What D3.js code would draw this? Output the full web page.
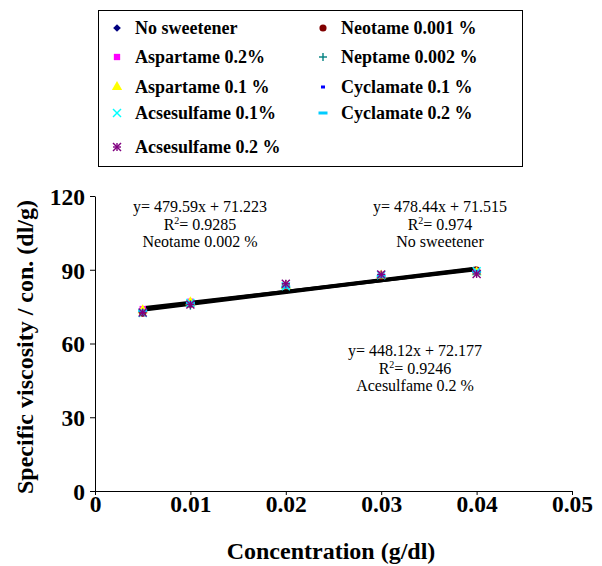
<!DOCTYPE html>
<html>
<head>
<meta charset="utf-8">
<script src="https://cdn.jsdelivr.net/npm/d3@7"></script>
<style>
  body { margin: 0; background: #fff; }
  svg text { font-family: "Liberation Serif", "Times New Roman", serif !important; fill: #000; }
  .axis path, .axis line { stroke: #000; stroke-width: 1; }
  .axis text { font-size: 23.5px; font-weight: bold; }
</style>
</head>
<body>
<svg width="602" height="566"></svg>
<script>
var concentrations = [0.005, 0.01, 0.02, 0.03, 0.04];

var seriesNames = ["No sweetener", "Neotame 0.001 %", "Aspartame 0.2%", "Neptame 0.002 %",
  "Aspartame 0.1 %", "Cyclamate 0.1 %", "Acsesulfame 0.1%", "Cyclamate 0.2 %", "Acsesulfame 0.2 %"];

var noSweetener   = [73.2, 76.3, 83.6, 87.6, 89.5];
var neotame001    = [72.3, 76.0, 83.2, 87.4, 89.9];
var aspartame02   = [74.0, 77.0, 83.5, 88.0, 89.2];
var neptame002    = [72.8, 75.4, 84.2, 87.9, 88.9];
var aspartame01   = [73.5, 76.8, 83.4, 87.7, 89.0];
var cyclamate01   = [73.0, 76.2, 83.0, 87.5, 89.2];
var acsesulfame01 = [72.4, 76.5, 83.3, 87.8, 89.4];
var cyclamate02   = [73.3, 76.4, 83.0, 87.3, 89.3];
var acsesulfame02 = [72.6, 75.9, 84.3, 88.1, 88.3];

var seriesValues = [noSweetener, neotame001, aspartame02, neptame002,
  aspartame01, cyclamate01, acsesulfame01, cyclamate02, acsesulfame02];

var seriesColors = ["#000080", "#800000", "#ff00ff", "#008080",
  "#ffff00", "#0000ff", "#00ffff", "#00ccff", "#800080"];
var seriesMarkers = ["diamond", "circle", "square", "plus",
  "triangle", "shortDash", "cross", "longDash", "star"];

// trendlines: slope, intercept
var trendSlopes = [478.44, 479.59, 448.12];
var trendIntercepts = [71.515, 71.223, 72.177];

var xTicks = [0, 0.01, 0.02, 0.03, 0.04, 0.05];
var xTickLabels = ["0", "0.01", "0.02", "0.03", "0.04", "0.05"];
var yTicks = [0, 30, 60, 90, 120];

var annotations = [
  { lines: ["y= 479.59x + 71.223", "R2= 0.9285", "Neotame 0.002 %"], cx: 200, top: 212 },
  { lines: ["y= 478.44x + 71.515", "R2= 0.974", "No sweetener"], cx: 440, top: 212 },
  { lines: ["y= 448.12x + 72.177", "R2= 0.9246", "Acesulfame 0.2 %"], cx: 415, top: 356 }
];

var svg = d3.select("svg");

var x = d3.scaleLinear().domain([0, 0.05]).range([95, 572]);
var y = d3.scaleLinear().domain([0, 120]).range([491, 196]);

// axes
var xAxisG = svg.append("g")
    .attr("class", "axis")
    .attr("transform", "translate(0," + y(0) + ")")
    .call(d3.axisBottom(x).tickValues(xTicks).tickSize(4).tickSizeOuter(0)
      .tickFormat(function(d, i) { return xTickLabels[i]; }));
xAxisG.attr("font-family", null).attr("font-size", null);
xAxisG.selectAll("text").attr("dy", "0.6em");

var yAxisG = svg.append("g")
    .attr("class", "axis")
    .attr("transform", "translate(" + x(0) + ",0)")
    .call(d3.axisLeft(y).tickValues(yTicks).tickSize(5).tickSizeOuter(0));
yAxisG.attr("font-family", null).attr("font-size", null);
yAxisG.selectAll("text").attr("x", -10).attr("dy", "0.36em");

// axis titles
svg.append("text")
    .attr("x", 331).attr("y", 559)
    .attr("text-anchor", "middle")
    .style("font-size", "24px").style("font-weight", "bold")
    .text("Concentration (g/dl)");

svg.append("text")
    .attr("transform", "translate(33,347) rotate(-90)")
    .attr("text-anchor", "middle")
    .style("font-size", "24px").style("font-weight", "bold")
    .text("Specific viscosity / con. (dl/g)");

// trendlines
trendSlopes.forEach(function(m, i) {
  var b = trendIntercepts[i];
  svg.append("line")
      .attr("x1", x(0.005)).attr("y1", y(m * 0.005 + b))
      .attr("x2", x(0.04)).attr("y2", y(m * 0.04 + b))
      .attr("stroke", "#000")
      .attr("stroke-width", 3.5);
});

function drawMarker(g, type, color) {
  var sym = null;
  if (type == "diamond") {
    g.append("path").attr("d", d3.symbol().type(d3.symbolSquare).size(30)())
      .attr("transform", "rotate(45)").attr("fill", color);
    return;
  }
  if (type == "circle") sym = d3.symbol().type(d3.symbolCircle).size(40);
  if (type == "square") sym = d3.symbol().type(d3.symbolSquare).size(40);
  if (type == "triangle") sym = d3.symbol().type(d3.symbolTriangle).size(46);
  if (sym) {
    g.append("path").attr("d", sym()).attr("fill", color);
    return;
  }
  if (type == "plus" || type == "star") {
    g.append("line").attr("x1", -4).attr("x2", 4).attr("y1", 0).attr("y2", 0)
      .attr("stroke", color).attr("stroke-width", 1.4);
    g.append("line").attr("x1", 0).attr("x2", 0).attr("y1", -4).attr("y2", 4)
      .attr("stroke", color).attr("stroke-width", 1.4);
  }
  if (type == "cross" || type == "star") {
    g.append("line").attr("x1", -4).attr("x2", 4).attr("y1", -4).attr("y2", 4)
      .attr("stroke", color).attr("stroke-width", 1.4);
    g.append("line").attr("x1", -4).attr("x2", 4).attr("y1", 4).attr("y2", -4)
      .attr("stroke", color).attr("stroke-width", 1.4);
  }
  if (type == "shortDash") {
    g.append("rect").attr("x", -2).attr("y", -1.5).attr("width", 4).attr("height", 3).attr("fill", color);
  }
  if (type == "longDash") {
    g.append("rect").attr("x", -4.5).attr("y", -1.5).attr("width", 9).attr("height", 3).attr("fill", color);
  }
}

// data points
seriesValues.forEach(function(vals, i) {
  vals.forEach(function(v, j) {
    var g = svg.append("g")
        .attr("transform", "translate(" + x(concentrations[j]) + "," + y(v) + ")");
    drawMarker(g, seriesMarkers[i], seriesColors[i]);
  });
});

// annotations
annotations.forEach(function(a) {
  a.lines.forEach(function(line, k) {
    var t = svg.append("text")
        .attr("x", a.cx).attr("y", a.top + k * 17.5)
        .attr("text-anchor", "middle")
        .style("font-size", "16px");
    if (line.indexOf("R2") == 0) {
      t.append("tspan").text("R");
      t.append("tspan").attr("dy", -6).style("font-size", "10px").text("2");
      t.append("tspan").attr("dy", 6).text(line.slice(2));
    } else {
      t.text(line);
    }
  });
});

// legend
var legendRows = [28, 57, 87, 113, 147];
var legendCols = [117, 323];
var legendOrder = [[0, 1], [2, 3], [4, 5], [6, 7], [8]];

svg.append("rect")
    .attr("x", 98.5).attr("y", 10.5)
    .attr("width", 424).attr("height", 156)
    .attr("fill", "none").attr("stroke", "#000").attr("stroke-width", 1);

legendOrder.forEach(function(row, r) {
  row.forEach(function(si, c) {
    var g = svg.append("g")
        .attr("transform", "translate(" + legendCols[c] + "," + legendRows[r] + ")");
    drawMarker(g, seriesMarkers[si], seriesColors[si]);
    svg.append("text")
        .attr("x", legendCols[c] + 18).attr("y", legendRows[r] + 6)
        .style("font-size", "18px").style("font-weight", "bold")
        .text(seriesNames[si]);
  });
});
</script>
</body>
</html>
